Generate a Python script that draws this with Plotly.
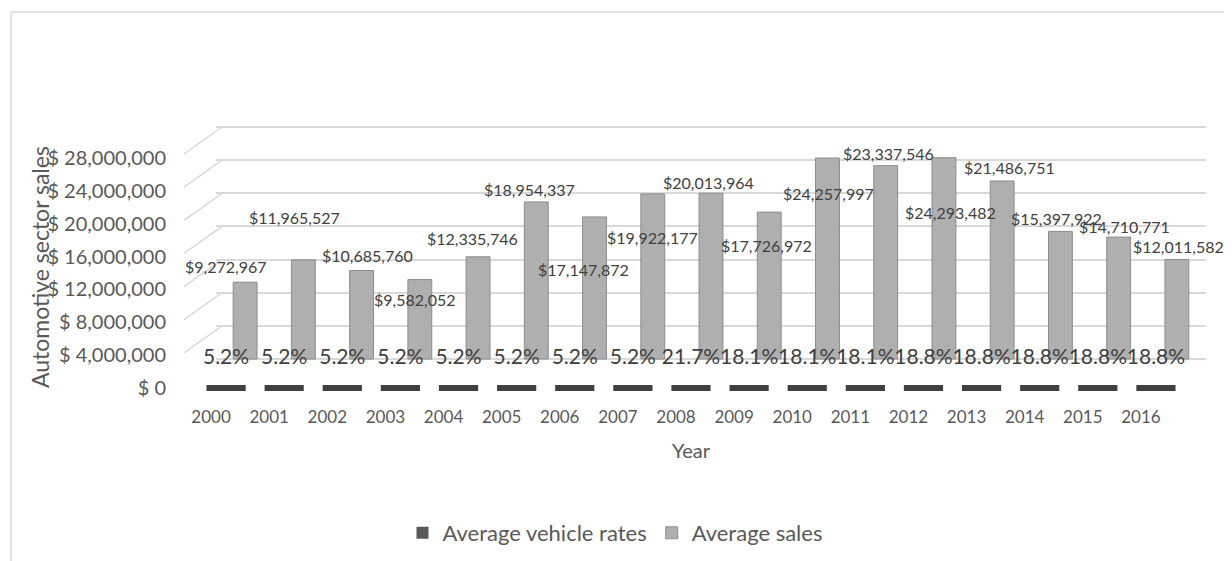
import plotly.graph_objects as go

# ---------------- data ----------------
years = ["2000", "2001", "2002", "2003", "2004", "2005", "2006", "2007", "2008",
         "2009", "2010", "2011", "2012", "2013", "2014", "2015", "2016"]
average_sales = [9272967, 11965527, 10685760, 9582052, 12335746, 18954337, 17147872,
                 19922177, 20013964, 17726972, 24257997, 23337546, 24293482, 21486751,
                 15397922, 14710771, 12011582]
average_vehicle_rates = [5.2, 5.2, 5.2, 5.2, 5.2, 5.2, 5.2, 5.2, 21.7,
                         18.1, 18.1, 18.1, 18.8, 18.8, 18.8, 18.8, 18.8]
y_ticks = [0, 4000000, 8000000, 12000000, 16000000, 20000000, 24000000, 28000000]
y_tick_text = [f"$ {v:,}" for v in y_ticks]

# label placement offsets (pixels) imitating the 3-D chart's label layout
label_dx = [-19, -9, 6, -5, -6, -7, -11, 0, -3, -3, 1, 3, 7, 7, -4, 6, 2]
label_dy = [16, 42, 15, -20, 18, 12, -53, -44, 11, -33, -35, 12, -55, 13, 13, 11, 13]

# ---------------- geometry helpers ----------------
# the page body has an 8px margin, so the figure is placed 8px in from the corner
OFF = 8
W, H = 1232 - OFF, 561 - OFF
def fx(p):
    return (p - OFF) / W
def fy(p):
    return 1 - (p - OFF) / H
def ydomain(v0, p0, v1, p1, lo, hi):
    s = (p1 - p0) / (v1 - v0)
    return [fy(p0 + (lo - v0) * s), fy(p0 + (hi - v0) * s)]

FONT = "Lato"
TXT = "#595959"
LBL = "#404040"
GRID = "#D9D9D9"
LO, HI = -200000, 28200000

fig = go.Figure()

# legend / data for rates (front)
fig.add_trace(go.Bar(
    x=years, y=average_vehicle_rates, name="Average vehicle rates",
    xaxis="x2", yaxis="y2", marker=dict(color="#595959"), width=0.48,
    hoverinfo="skip"))
# floor slabs with percentage labels (front)
fig.add_trace(go.Scatter(
    x=years, y=average_vehicle_rates, xaxis="x2", yaxis="y2",
    mode="markers+text", showlegend=False, cliponaxis=False,
    marker=dict(symbol="line-ew", size=28, line=dict(width=6, color="#404040")),
    text=[f"{r:.1f}%" for r in average_vehicle_rates],
    textposition="top center",
    textfont=dict(family=FONT, size=21, color=LBL),
    hoverinfo="skip"))
# sales columns (back)
fig.add_trace(go.Bar(
    x=years, y=average_sales, name="Average sales",
    xaxis="x", yaxis="y", width=0.41,
    marker=dict(color="#AFAFAF", line=dict(color="#8C8C8C", width=1)),
    hoverinfo="skip"))

annotations = []
for i, v in enumerate(average_sales):
    annotations.append(dict(
        x=i, y=v, xref="x", yref="y", text=f"${v:,}", showarrow=False,
        xanchor="center", yanchor="middle",
        xshift=label_dx[i], yshift=label_dy[i],
        font=dict(family=FONT, size=16, color=LBL)))
annotations.append(dict(
    x=fx(40), y=fy(267), xref="paper", yref="paper", text="Automotive sector sales",
    xanchor="center", yanchor="middle",
    textangle=-90, showarrow=False, font=dict(family=FONT, size=23, color=TXT)))
annotations.append(dict(
    x=fx(691), y=fy(450), xref="paper", yref="paper", text="Year",
    xanchor="center", yanchor="middle",
    showarrow=False, font=dict(family=FONT, size=20, color=TXT)))

shapes = []
# chart frame (partial border)
shapes.append(dict(type="line", xref="paper", yref="paper", x0=fx(11), x1=fx(11),
                   y0=fy(12), y1=0, line=dict(color=GRID, width=1.5)))
shapes.append(dict(type="line", xref="paper", yref="paper", x0=fx(11), x1=1,
                   y0=fy(12), y1=fy(12), line=dict(color=GRID, width=1.5)))
# side-wall connectors of the 3-D gridlines
for v in y_ticks:
    shapes.append(dict(type="line", xref="paper", xsizemode="pixel", xanchor=fx(222),
                       x0=-38, x1=0, yref="y", ysizemode="pixel", yanchor=v,
                       y0=-27, y1=0, line=dict(color=GRID, width=1.5), layer="below"))

fig.update_layout(
    template="none",
    width=W, height=H,
    margin=dict(l=0, r=0, t=0, b=0, autoexpand=False),
    paper_bgcolor="white", plot_bgcolor="rgba(0,0,0,0)",
    font=dict(family=FONT, color=TXT),
    barmode="overlay",
    showlegend=True,
    legend=dict(orientation="h", x=fx(615), xanchor="center", y=fy(533), yanchor="middle",
                font=dict(family=FONT, size=22, color=TXT), traceorder="normal",
                bgcolor="rgba(0,0,0,0)"),
    xaxis=dict(type="category", domain=[fx(216), fx(1206)], anchor="y",
               range=[-0.5, 16.5],
               showticklabels=False, showgrid=False, zeroline=False, showline=False,
               automargin=False, fixedrange=True),
    yaxis=dict(domain=ydomain(0, 359, 28000000, 127, LO, HI), anchor="x", range=[LO, HI],
               tickvals=y_ticks, showticklabels=False, showgrid=True, ticks="",
               gridcolor=GRID, gridwidth=1.5, zeroline=False, showline=False,
               automargin=False, fixedrange=True),
    xaxis2=dict(type="category", domain=[fx(197), fx(1185)], anchor="y2",
                range=[-0.5, 16.5],
                showgrid=False, zeroline=False, showline=False, ticks="",
                ticklabelshift=-15, ticklabelstandoff=17, automargin=False,
                tickfont=dict(family=FONT, size=17, color=TXT), fixedrange=True),
    yaxis2=dict(domain=ydomain(0, 388, 28000000, 158, 0, 28000000), anchor="free",
                position=fx(166), range=[0, 28000000], tickvals=y_ticks,
                ticktext=y_tick_text, showgrid=False, zeroline=False, showline=False,
                ticks="", tickfont=dict(family=FONT, size=20, color=TXT),
                automargin=False, fixedrange=True),
    annotations=annotations,
    shapes=shapes,
    hovermode=False,
)

fig.write_html("out.html")
